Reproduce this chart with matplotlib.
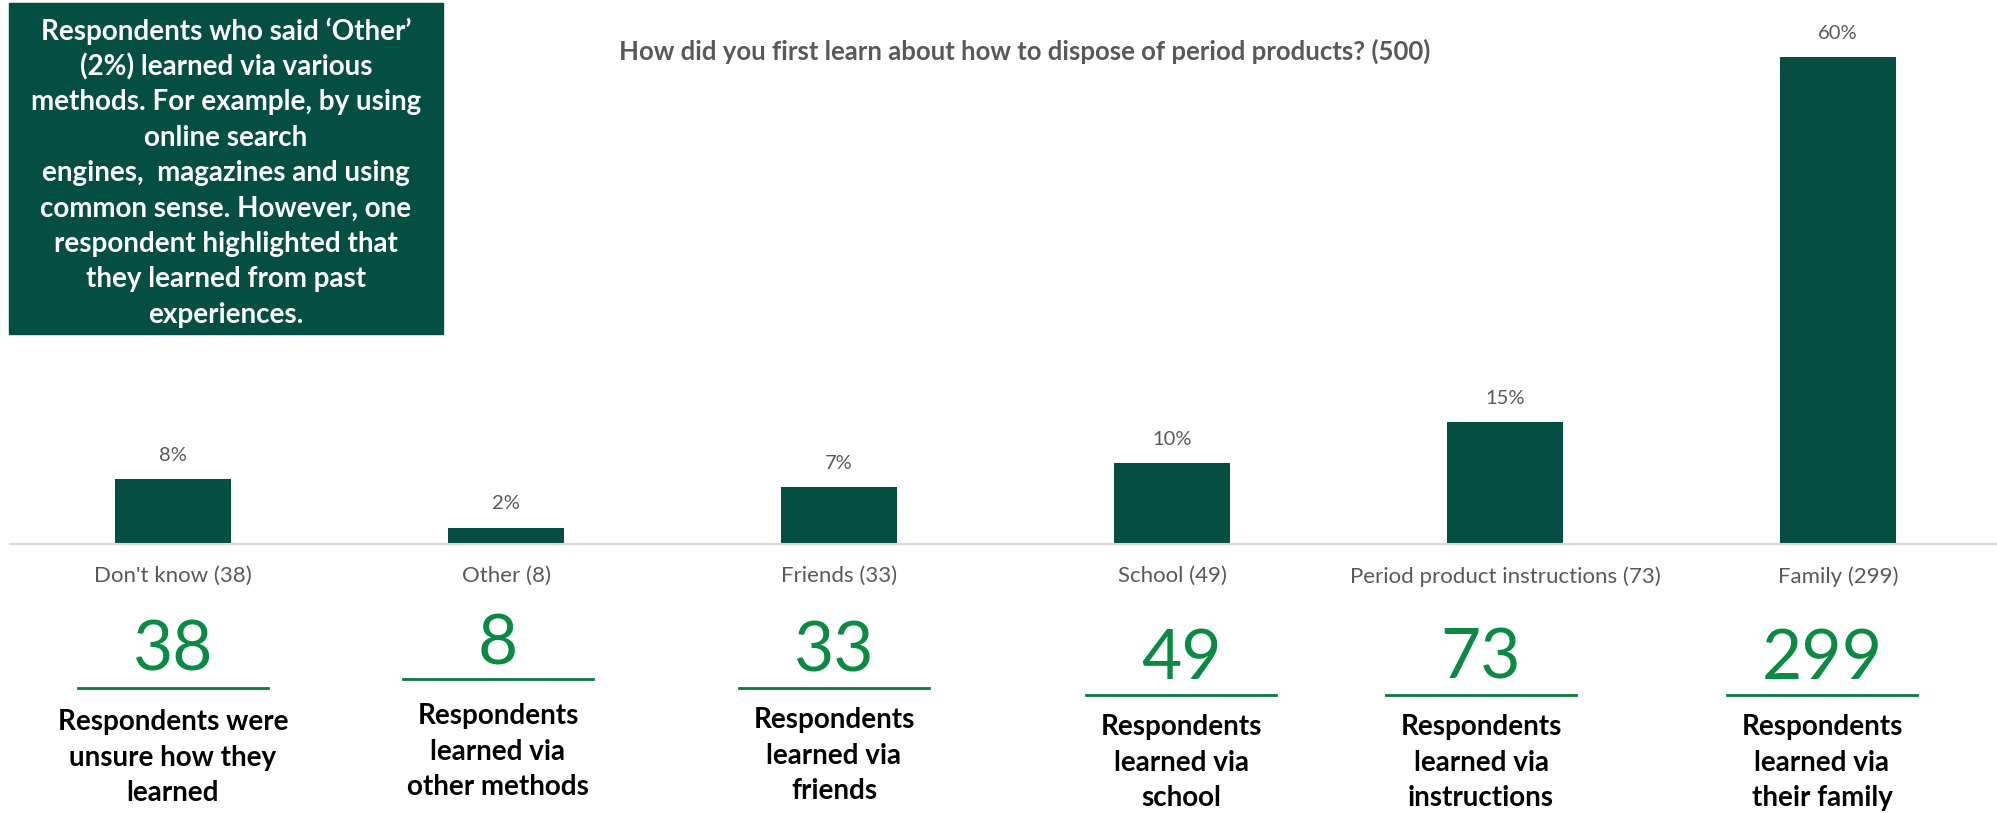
import matplotlib
matplotlib.use("Agg")
import matplotlib.pyplot as plt
from matplotlib.patches import Rectangle
from matplotlib.lines import Line2D

# survey answers, share of 500 respondents
categories = ["Don't know (38)", "Other (8)", "Friends (33)", "School (49)",
              "Period product instructions (73)", "Family (299)"]
percent = [8, 2, 7, 10, 15, 60]
counts = [38, 8, 33, 49, 73, 299]
captions = [["Respondents were", "unsure how they", "learned"],
            ["Respondents", "learned via", "other methods"],
            ["Respondents", "learned via", "friends"],
            ["Respondents", "learned via", "school"],
            ["Respondents", "learned via", "instructions"],
            ["Respondents", "learned via", "their family"]]
title = "How did you first learn about how to dispose of period products? (500)"
note = ["Respondents who said \u2018Other\u2019",
        "(2%) learned via various",
        "methods. For example, by using",
        "online search",
        "engines,  magazines and using",
        "common sense. However, one",
        "respondent highlighted that",
        "they learned from past",
        "experiences."]

W, H = 1997, 813
DARK = "#044F41"
GREEN = "#0A8A42"
GREY = "#595959"
FONT = "Lato"

def fx(px):
    return px / W

def fy(py):
    return 1 - py / H

fig = plt.figure(figsize=(W / 100, H / 100), dpi=100)

# bar chart area: baseline at y=544px, axes spans full width
ax = fig.add_axes([fx(10), fy(544), fx(1987), 544 / H])
x = list(range(len(categories)))
ax.bar(x, percent, width=0.35, color=DARK, zorder=2)
ax.set_xlim(-0.49, 5.477)
ax.set_ylim(0, 67)
for s in ["top", "right", "left"]:
    ax.spines[s].set_visible(False)
ax.spines["bottom"].set_color("#D9D9D9")
ax.spines["bottom"].set_linewidth(1.5)
ax.set_yticks([])
ax.set_xticks(x)
ax.set_xticklabels(categories, fontsize=16, color=GREY, family=FONT)
ax.tick_params(axis="x", length=0, pad=16)
for xi, p in zip(x, percent):
    ax.annotate(f"{p}%", (xi, p), xytext=(0, 11), textcoords="offset points",
                ha="center", va="bottom", fontsize=14.5, color=GREY, family=FONT)

fig.text(fx(1025), fy(51), title, ha="center", va="center", fontsize=18.5,
         fontweight="bold", color=GREY, family=FONT)

# note box in the top-left corner
fig.patches.append(Rectangle((fx(9), fy(334)), fx(434), (334 - 3) / H,
                             transform=fig.transFigure, color=DARK, zorder=1))
for i, line in enumerate(note):
    fig.text(fx(226), fy(31 + i * 35.5), line, ha="center", va="center",
             fontsize=20, fontweight="bold", color="white", family=FONT, zorder=3)

# big counts, underline and caption under each bar
num_x = [173, 498, 834, 1181, 1481, 1822]
num_y = [651, 645, 652, 659, 659, 659]
line_y = [688, 679, 688, 695, 695, 695]
line_w = 190
cap_y = [722, 716, 720, 727, 727, 727]
for i, n in enumerate(counts):
    fig.text(fx(num_x[i]), fy(num_y[i]), str(n), ha="center", va="center",
             fontsize=50, color=GREEN, family=FONT)
    fig.add_artist(Line2D([fx(num_x[i] - line_w / 2), fx(num_x[i] + line_w / 2)],
                          [fy(line_y[i]), fy(line_y[i])], color="#0B7A3E", lw=2))
    for j, line in enumerate(captions[i]):
        fig.text(fx(num_x[i]), fy(cap_y[i] + j * 35.5), line, ha="center",
                 va="center", fontsize=20, fontweight="bold", color="black",
                 family=FONT)

fig.savefig("out.png", dpi=100)
